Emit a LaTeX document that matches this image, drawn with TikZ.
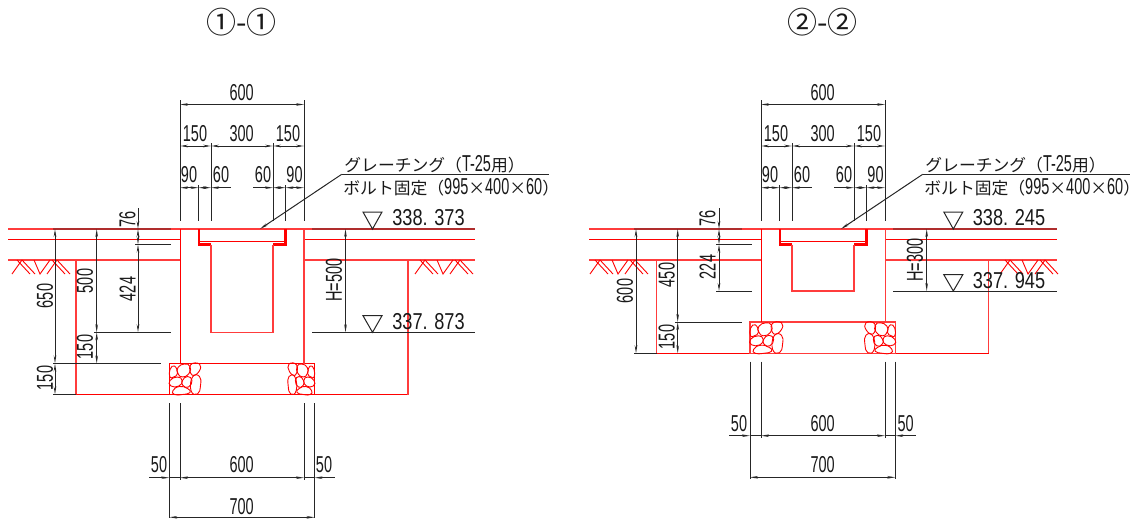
\documentclass[tikz,border=0pt]{standalone}
\usepackage{fontspec}
\usepackage{xcolor}
\usetikzlibrary{arrows.meta,positioning,calc}
\setmainfont{Liberation Sans}
\newfontfamily\narrowfont[FakeStretch=0.63]{Liberation Sans}
\newfontfamily\levelfont[FakeStretch=0.79]{Liberation Sans}
\newfontfamily\jpfont{Noto Sans CJK JP}
\newcommand{\notenum}[1]{{\fontsize{11.5}{12}\narrowfont #1}}

\definecolor{paleline}{RGB}{255,60,60}
\definecolor{overlap}{RGB}{175,45,45}

\tikzset{
wall/.style={paleline, line width=0.7pt},
hardline/.style={red, line width=0.5pt},
thickwall/.style={red, line width=1.1pt},
stone/.style={red, line width=0.45pt},
thin line/.style={black!85, line width=0.5pt},
overlapline/.style={overlap, line width=0.7pt},
dimline/.style={<->, >={Stealth[length=4pt,width=1.3pt]}, black!85, line width=0.5pt},
dimtext/.style={inner sep=0pt, font=\fontsize{11.5}{12}\narrowfont, black!90},
dimvert/.style={dimtext, rotate=90},
leveltext/.style={inner sep=0pt, font=\fontsize{11.5}{12}\levelfont, black!90},
titletext/.style={inner sep=0pt, font=\fontsize{15}{16}\jpfont, black!90},
notetext/.style={inner sep=0pt, anchor=west, font=\fontsize{8.4}{9}\jpfont, black!90}
}

% earth hatching, x and y of its top left end
\newcommand{\earthmark}[2]{
\begin{scope}[shift={(#1,#2)}]
\draw[stone] (0,14) -- (10,0) (5,0) -- (18,14) (10,0) -- (23,14);
\draw[stone] (22,0) -- (28,14) -- (38,0);
\draw[stone] (35,14) -- (45,0) (40,0) -- (53,14) (45,0) -- (58,14);
\end{scope}
}

% stones of the footing, drawn from its outer top corner
\newcommand{\stonefill}[3]{
\begin{scope}[shift={(#1,#2)}, xscale=#3]
\draw[stone] plot[smooth cycle, tension=0.9] coordinates {(8.5,4) (15,0.5) (20.5,3) (19.5,10) (13,13.5) (8.5,10)};
\draw[stone] plot[smooth cycle, tension=0.9] coordinates {(0.5,6) (5,2.5) (8,10) (4,13.5) (0.5,13.5)};
\draw[stone] plot[smooth cycle, tension=0.9] coordinates {(21,1.5) (30,0.5) (29.5,8) (22.5,11.5)};
\draw[stone] plot[smooth cycle, tension=0.9] coordinates {(0.5,17) (8,13.5) (12.5,17) (9.5,22.5) (1.5,22.5)};
\draw[stone] plot[smooth cycle, tension=0.9] coordinates {(13,17) (18,13) (22.5,17) (19,23.5) (13.5,22)};
\draw[stone] plot[smooth cycle, tension=0.9] coordinates {(23,13.5) (30,13) (31,22) (28,30.5) (21.5,27)};
\draw[stone] plot[smooth cycle, tension=0.9] coordinates {(3.5,27) (10,23) (18,25) (20.5,29) (13,31) (5,31)};
\end{scope}
}

% level mark
\newcommand{\levelmark}[3]{
\draw[thin line] ({#1-9.5},#2) -- ({#1+9.5},#2) -- (#1,#3) -- cycle;
}

\begin{document}
\begin{tikzpicture}[x=0.5pt,y=-0.5pt]
\useasboundingbox (0,0) rectangle (1143,519);

% Titles
\node[titletext] (titleA) at (241.7,22) {①-①};
\node[titletext] (titleB) at (822.7,22) {②-②};

% Section 1 ground lines
\draw[wall] (8,229) -- (475,229);
\draw[hardline] (8,239.5) -- (180,239.5) (304,239.5) -- (475,239.5);
\draw[wall] (8,260) -- (180,260) (304,260) -- (475,260);
\draw[overlapline] (53,229) -- (171,229) (312,229) -- (475,229);
\earthmark{12}{260}
\earthmark{415}{260}

% Section 1 excavation and walls
\draw[wall] (76,260) -- (76,394.5);
\draw[hardline] (76,394.5) -- (408,394.5);
\draw[wall] (408,260) -- (408,394.5);
\draw[hardline] (169.5,363.5) rectangle (314.5,394.5);
\draw[hardline] (180.5,229) -- (180.5,363.5);
\draw[wall] (304,229) -- (304,363.5);
\stonefill{169.5}{363.5}{1}
\stonefill{314.5}{363.5}{-0.85}

% Section 1 grating seat and channel
\draw[thickwall] (199,229) -- (199,244.5) -- (211,244.5) (285.5,229) -- (285.5,244.5) -- (273,244.5);
\draw[hardline] (200,241.5) -- (284.5,241.5);
\draw[wall] (211,244.5) -- (211,332.3) -- (273,332.3) -- (273,244.5);

% Section 1 top dimensions
\draw[thin line] (180,100) -- (180,220.5) (304,100) -- (304,220.5);
\draw[thin line] (211,143) -- (211,220.5) (273,143) -- (273,220.5);
\draw[thin line] (198.5,185) -- (198.5,220.5) (285.5,185) -- (285.5,220.5);
\draw[dimline] (180,104.5) -- (304,104.5);
\draw[dimline] (180,146) -- (211,146);
\draw[dimline] (211,146) -- (273,146);
\draw[dimline] (273,146) -- (304,146);
\draw[dimline] (180,187.7) -- (198.5,187.7);
\draw[dimline] (198.5,187.7) -- (211,187.7);
\draw[dimline,<-] (211,187.7) -- (231,187.7);
\draw[dimline,<-] (273,187.7) -- (253,187.7);
\draw[dimline] (273,187.7) -- (285.5,187.7);
\draw[dimline] (285.5,187.7) -- (304,187.7);
\node[dimtext] (widthA) at (241.7,93) {600};
\node[dimtext] (leftA) at (195,134) {150};
\node[dimtext] (midA) at (241.7,134) {300};
\node[dimtext] (rightA) at (288,134) {150};
\node[dimtext] (seatlA) at (189,175) {90};
\node[dimtext] (chanlA) at (221,175) {60};
\node[dimtext] (chanrA) at (263,175) {60};
\node[dimtext] (seatrA) at (294.5,175) {90};

% Section 1 left dimensions
\draw[thin line] (53,363.5) -- (161,363.5) (53,394.5) -- (76,394.5);
\draw[thin line] (94,332.3) -- (171,332.3) (135,244.5) -- (171,244.5);
\draw[dimline] (55,229) -- (55,363.5);
\draw[dimline] (55,363.5) -- (55,394.5);
\draw[dimline] (96.7,229) -- (96.7,332.3);
\draw[dimline] (96.7,332.3) -- (96.7,363.5);
\draw[dimline,<-] (138,229) -- (138,208);
\draw[dimline] (138,229) -- (138,244.5);
\draw[dimline] (138,244.5) -- (138,332.3);
\node[dimvert] (deepA) at (45,296) {650};
\node[dimvert] (baseA) at (45,378) {150};
\node[dimvert] (outerA) at (85,281) {500};
\node[dimvert] (stepA) at (85,347) {150};
\node[dimvert] (coverA) at (127.5,219) {76};
\node[dimvert] (chanA) at (127.5,289) {424};

% Section 1 right dimensions
\draw[thin line] (312,332.3) -- (475,332.3);
\draw[dimline] (345.5,229) -- (345.5,332.3);
\node[dimvert] (heightA) at (334,280) {H=500};
\levelmark{372.5}{212}{229}
\levelmark{372.5}{315.7}{332.3}
\node[leveltext] (levelupA) at (428.5,218) {338. 373};
\node[leveltext] (leveldownA) at (428.5,321.5) {337. 873};

% Section 1 grating note
\coordinate (tipA) at (260,229);
\coordinate (bendA) at (341.7,174.3);
\coordinate (endA) at (549,174.3);
\draw[dimline,<-] (tipA) -- (bendA);
\draw[thin line] (bendA) -- (endA);
\node[notetext] (noteupA) at (344,164) {グレーチング（\notenum{T-25}用）};
\node[notetext] (notedownA) at (343,187) {ボルト固定（\notenum{995}×\notenum{400}×\notenum{60}）};

% Section 1 bottom dimensions
\draw[thin line] (169.3,403) -- (169.3,518) (314.5,403) -- (314.5,518);
\draw[thin line] (180,403) -- (180,480) (304,403) -- (304,480);
\draw[dimline,<-] (169.3,477.7) -- (149,477.7);
\draw[thin line] (169.3,477.7) -- (180,477.7) (304,477.7) -- (314.5,477.7);
\draw[dimline] (180,477.7) -- (304,477.7);
\draw[dimline,<-] (314.5,477.7) -- (335,477.7);
\draw[dimline] (169.3,517.3) -- (314.5,517.3);
\node[dimtext] (sideA) at (159,465) {50};
\node[dimtext] (baseinA) at (241.7,465) {600};
\node[dimtext] (sidebA) at (324,465) {50};
\node[dimtext] (baseoutA) at (241.7,507) {700};

% Section 2 ground lines
\draw[wall] (589,229) -- (1057,229);
\draw[hardline] (589,239.5) -- (761,239.5) (885.5,239.5) -- (1057,239.5);
\draw[wall] (589,260) -- (761,260) (885.5,260) -- (1057,260);
\draw[overlapline] (634,229) -- (742,229) (893,229) -- (1057,229);
\earthmark{590}{260}
\earthmark{1000}{260}

% Section 2 excavation and walls
\draw[wall] (656.7,260) -- (656.7,353.3);
\draw[hardline] (656.7,353.5) -- (988.7,353.5);
\draw[wall] (988.7,260) -- (988.7,353.3);
\draw[wall] (750,322) rectangle (895.3,353.3);
\draw[hardline] (761.5,229) -- (761.5,322);
\draw[wall] (885.5,229) -- (885.5,322);
\stonefill{750}{322.3}{1.05}
\stonefill{895.3}{322.3}{-0.98}

% Section 2 grating seat and channel
\draw[thickwall] (780,229) -- (780,244.5) -- (792,244.5) (866.5,229) -- (866.5,244.5) -- (854,244.5);
\draw[hardline] (781,241.5) -- (865.5,241.5);
\draw[wall] (792,244.5) -- (792,291) -- (854,291) -- (854,244.5);

% Section 2 top dimensions
\draw[thin line] (761,100) -- (761,220.5) (885,100) -- (885,220.5);
\draw[thin line] (792,143) -- (792,220.5) (854,143) -- (854,220.5);
\draw[thin line] (779.5,185) -- (779.5,220.5) (866.5,185) -- (866.5,220.5);
\draw[dimline] (761,104.5) -- (885,104.5);
\draw[dimline] (761,146) -- (792,146);
\draw[dimline] (792,146) -- (854,146);
\draw[dimline] (854,146) -- (885,146);
\draw[dimline] (761,187.7) -- (779.5,187.7);
\draw[dimline] (779.5,187.7) -- (792,187.7);
\draw[dimline,<-] (792,187.7) -- (812,187.7);
\draw[dimline,<-] (854,187.7) -- (834,187.7);
\draw[dimline] (854,187.7) -- (866.5,187.7);
\draw[dimline] (866.5,187.7) -- (885,187.7);
\node[dimtext] (widthB) at (822.7,93) {600};
\node[dimtext] (leftB) at (776,134) {150};
\node[dimtext] (midB) at (822.7,134) {300};
\node[dimtext] (rightB) at (869,134) {150};
\node[dimtext] (seatlB) at (770,175) {90};
\node[dimtext] (chanlB) at (802,175) {60};
\node[dimtext] (chanrB) at (844,175) {60};
\node[dimtext] (seatrB) at (875.5,175) {90};

% Section 2 left dimensions
\draw[thin line] (634,353.3) -- (657,353.3) (675,322) -- (742,322);
\draw[thin line] (716,244.5) -- (752,244.5) (716,291) -- (752,291);
\draw[dimline] (636,229) -- (636,353.3);
\draw[dimline] (677.7,229) -- (677.7,322);
\draw[dimline] (677.7,322) -- (677.7,353.3);
\draw[dimline,<-] (719,229) -- (719,208);
\draw[dimline] (719,229) -- (719,244.5);
\draw[dimline] (719,244.5) -- (719,291);
\node[dimvert] (deepB) at (625,291) {600};
\node[dimvert] (outerB) at (666.7,275) {450};
\node[dimvert] (stepB) at (666.7,337) {150};
\node[dimvert] (coverB) at (707.5,218) {76};
\node[dimvert] (chanB) at (707.5,267) {224};

% Section 2 right dimensions
\draw[thin line] (893,291) -- (1057,291);
\draw[dimline] (926.7,229) -- (926.7,291);
\node[dimvert] (heightB) at (915,260) {H=300};
\levelmark{953.3}{212}{229}
\levelmark{953.3}{274.7}{291}
\node[leveltext] (levelupB) at (1009,218) {338. 245};
\node[leveltext] (leveldownB) at (1009,280.5) {337. 945};

% Section 2 grating note
\coordinate (tipB) at (841,229);
\coordinate (bendB) at (922.7,174.3);
\coordinate (endB) at (1130,174.3);
\draw[dimline,<-] (tipB) -- (bendB);
\draw[thin line] (bendB) -- (endB);
\node[notetext] (noteupB) at (925,164) {グレーチング（\notenum{T-25}用）};
\node[notetext] (notedownB) at (924,187) {ボルト固定（\notenum{995}×\notenum{400}×\notenum{60}）};

% Section 2 bottom dimensions
\draw[thin line] (750,361.7) -- (750,479) (895.3,361.7) -- (895.3,479);
\draw[thin line] (761,361.7) -- (761,438) (885,361.7) -- (885,438);
\draw[dimline,<-] (750,435.7) -- (729,435.7);
\draw[thin line] (750,435.7) -- (761,435.7) (885,435.7) -- (895.3,435.7);
\draw[dimline] (761,435.7) -- (885,435.7);
\draw[dimline,<-] (895.3,435.7) -- (916,435.7);
\draw[dimline] (750,477.3) -- (895.3,477.3);
\node[dimtext] (sideB) at (739,424) {50};
\node[dimtext] (baseinB) at (822.7,424) {600};
\node[dimtext] (sidebB) at (905.7,424) {50};
\node[dimtext] (baseoutB) at (822.7,465) {700};

\end{tikzpicture}
\end{document}
